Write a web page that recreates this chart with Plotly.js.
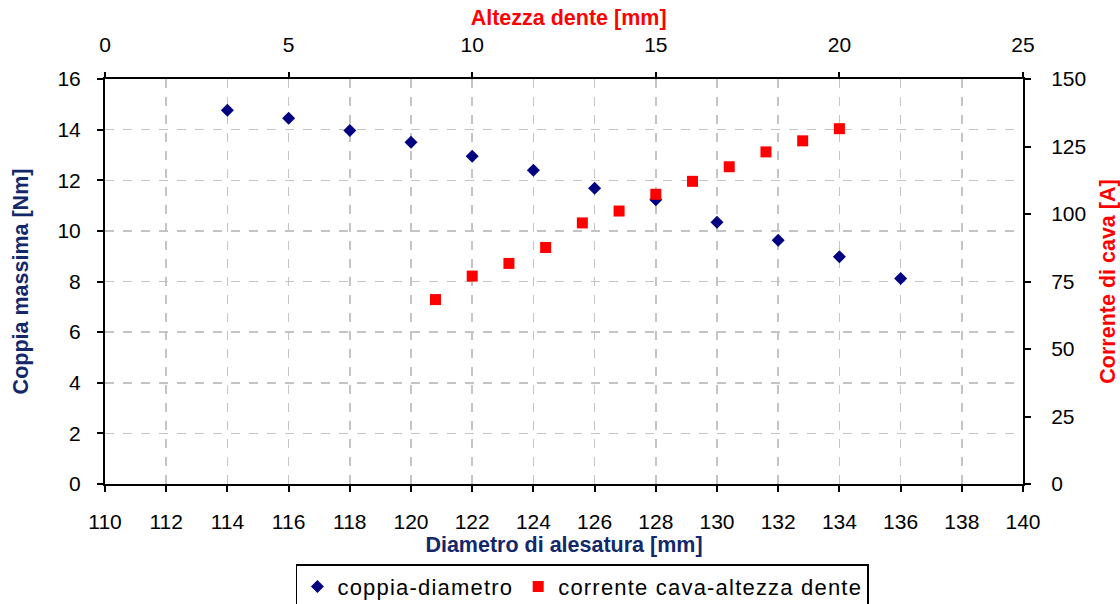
<!DOCTYPE html>
<html>
<head>
<meta charset="utf-8">
<script src="https://cdn.plot.ly/plotly-3.0.1.min.js"></script>
<style>
  html, body { margin: 0; padding: 0; background: #ffffff; }
  #chart { width: 1120px; height: 604px; }
</style>
</head>
<body>
<div id="chart"></div>
<script>
// Coppia massima in funzione del diametro di alesatura
const diametro = [114, 116, 118, 120, 122, 124, 126, 128, 130, 132, 134, 136];
const coppia = [14.77, 14.45, 13.97, 13.5, 12.95, 12.4, 11.68, 11.23, 10.34, 9.63, 8.98, 8.12];

// Corrente di cava in funzione dell'altezza del dente
const altezzaDente = [9, 10, 11, 12, 13, 14, 15, 16, 17, 18, 19, 20];
const corrente = [68.3, 77.0, 81.7, 87.6, 96.7, 101.1, 107.3, 112.1, 117.5, 123.0, 127.1, 131.6];

const seriesNames = ['coppia-diametro', 'corrente cava-altezza dente'];

const NAVY = '#13286b';
const RED = '#ff0000';
const FONT = 'Liberation Sans, Arial, sans-serif';

// legend labels are drawn slightly tracked out
const spaced = s => '<span style="letter-spacing:1.2px">' + s + '</span>';

const traces = [
  {
    x: diametro, y: coppia, xaxis: 'x', yaxis: 'y',
    type: 'scatter', mode: 'markers', name: spaced(seriesNames[0]),
    marker: { symbol: 'diamond', size: 10, color: '#000080' }
  },
  {
    x: altezzaDente, y: corrente, xaxis: 'x2', yaxis: 'y2',
    type: 'scatter', mode: 'markers', name: spaced(seriesNames[1]),
    marker: { symbol: 'square', size: 11, color: RED }
  }
];

const tickFont = { family: FONT, size: 21, color: '#000000' };
const titleSize = 21.5;

const layout = {
  width: 1120, height: 604,
  margin: { l: 105, r: 97, t: 79, b: 120 },
  paper_bgcolor: '#ffffff', plot_bgcolor: '#ffffff',
  font: { family: FONT, color: '#000000' },
  // title of the top (secondary) x axis
  title: {
    text: '<b>Altezza dente [mm]</b>',
    font: { family: FONT, size: titleSize, color: RED },
    xref: 'paper', x: 0.505, xanchor: 'center',
    yref: 'container', y: 0.971, yanchor: 'middle'
  },
  showlegend: true,
  legend: {
    orientation: 'h', x: 0.208, xanchor: 'left',
    yref: 'container', y: 0.066, yanchor: 'top',
    bordercolor: '#000000', borderwidth: 1.5, bgcolor: '#ffffff',
    font: { family: FONT, size: 22, color: '#000000' },
    itemwidth: 30, tracegroupgap: 0
  },
  xaxis: {
    range: [110, 140], dtick: 2, tick0: 110,
    showline: true, linecolor: '#000000', linewidth: 2,
    ticks: 'outside', ticklen: 6, tickwidth: 2, tickcolor: '#000000',
    ticklabelstandoff: 12,
    showgrid: true, gridcolor: '#c4c4c4', griddash: 'dash', gridwidth: 1.5,
    zeroline: false, tickfont: tickFont,
    title: { text: '<b>Diametro di alesatura [mm]</b>', font: { family: FONT, size: titleSize, color: NAVY }, standoff: 4 },
    automargin: false
  },
  yaxis: {
    range: [0, 16], dtick: 2, tick0: 0,
    showline: true, linecolor: '#000000', linewidth: 2,
    ticks: 'outside', ticklen: 6, tickwidth: 2, tickcolor: '#000000',
    ticklabelstandoff: 12,
    showgrid: true, gridcolor: '#c4c4c4', griddash: 'dash', gridwidth: 1.5,
    zeroline: false, tickfont: tickFont,
    title: { text: '<b>Coppia massima [Nm]</b>', font: { family: FONT, size: titleSize, color: NAVY }, standoff: 23 },
    automargin: false
  },
  xaxis2: {
    range: [0, 25], dtick: 5, tick0: 0,
    overlaying: 'x', side: 'top', anchor: 'y',
    showline: true, linecolor: '#000000', linewidth: 2,
    ticks: 'outside', ticklen: 5, tickwidth: 2, tickcolor: '#000000',
    ticklabelstandoff: 12,
    showgrid: false, zeroline: false, tickfont: tickFont,
    automargin: false
  },
  yaxis2: {
    range: [0, 150], dtick: 25, tick0: 0,
    overlaying: 'y', side: 'right', anchor: 'x',
    showline: true, linecolor: '#000000', linewidth: 2,
    ticks: 'outside', ticklen: 6, tickwidth: 2, tickcolor: '#000000',
    ticklabelstandoff: 16,
    showgrid: false, zeroline: false, tickfont: tickFont,
    title: { text: '<b>Corrente di cava [A]</b>', font: { family: FONT, size: titleSize, color: RED }, standoff: 18 },
    automargin: false
  },
  // inner halves of the crossing ticks on the top and right axes
  xaxis3: {
    range: [0, 25], dtick: 5, tick0: 0,
    overlaying: 'x', side: 'top', anchor: 'y',
    showline: false, ticks: 'inside', ticklen: 5, tickwidth: 2, tickcolor: '#000000',
    showticklabels: false, showgrid: false, zeroline: false
  },
  yaxis3: {
    range: [0, 150], dtick: 25, tick0: 0,
    overlaying: 'y', side: 'right', anchor: 'x',
    showline: false, ticks: 'inside', ticklen: 6, tickwidth: 2, tickcolor: '#000000',
    showticklabels: false, showgrid: false, zeroline: false
  }
};

Plotly.newPlot('chart', traces, layout, { displayModeBar: false, staticPlot: true });
</script>
</body>
</html>
